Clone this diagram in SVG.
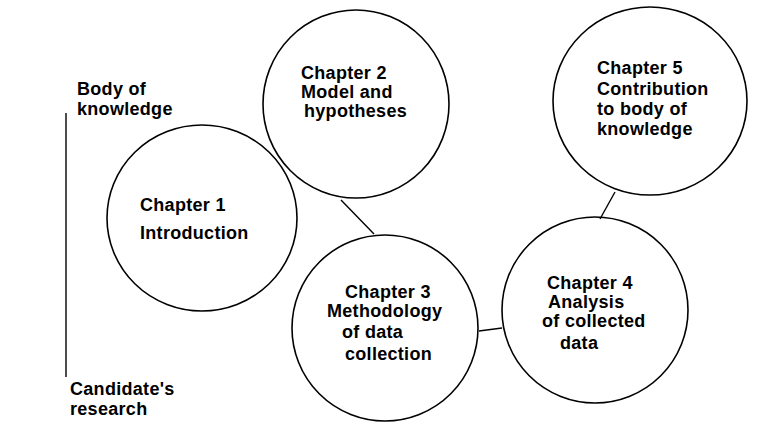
<svg xmlns="http://www.w3.org/2000/svg" width="776" height="423" viewBox="0 0 776 423">
<style>
.n{fill:none;stroke:#000;stroke-width:1.6}
.c{stroke:#000;stroke-width:1.4;fill:none}
text{font-family:"Liberation Sans",Arial,sans-serif;font-weight:bold;font-size:18px;fill:#000;letter-spacing:0.3px}
</style>
<rect width="776" height="423" fill="#fff"/>
<g id="connectors">
<line class="c" x1="66" y1="113" x2="66" y2="377"/>
<line class="c" x1="341" y1="200" x2="374" y2="234"/>
<line class="c" x1="479" y1="331" x2="502" y2="328"/>
<line class="c" x1="615" y1="192" x2="600" y2="219"/>
</g>
<g id="body-of-knowledge">
<text x="77" y="95">Body of</text>
<text x="77" y="115">knowledge</text>
</g>
<g id="candidates-research">
<text x="70" y="395">Candidate's</text>
<text x="70" y="415">research</text>
</g>
<g id="chapter1">
<ellipse class="n" cx="202" cy="218" rx="95" ry="93"/>
<text x="140" y="211">Chapter 1</text>
<text x="140" y="239">Introduction</text>
</g>
<g id="chapter2">
<ellipse class="n" cx="356" cy="104" rx="93" ry="94"/>
<text x="301" y="79">Chapter 2</text>
<text x="301" y="98">Model and</text>
<text x="304" y="117">hypotheses</text>
</g>
<g id="chapter3">
<ellipse class="n" cx="385" cy="328" rx="93" ry="93"/>
<text x="345" y="298">Chapter 3</text>
<text x="327" y="317">Methodology</text>
<text x="342" y="338">of data</text>
<text x="345" y="360">collection</text>
</g>
<g id="chapter4">
<ellipse class="n" cx="595" cy="310" rx="93" ry="93"/>
<text x="547" y="289">Chapter 4</text>
<text x="548" y="308">Analysis</text>
<text x="542" y="327">of collected</text>
<text x="560" y="349">data</text>
</g>
<g id="chapter5">
<ellipse class="n" cx="650" cy="101" rx="97" ry="94"/>
<text x="597" y="74">Chapter 5</text>
<text x="597" y="95">Contribution</text>
<text x="597" y="115">to body of</text>
<text x="597" y="135">knowledge</text>
</g>
</svg>
